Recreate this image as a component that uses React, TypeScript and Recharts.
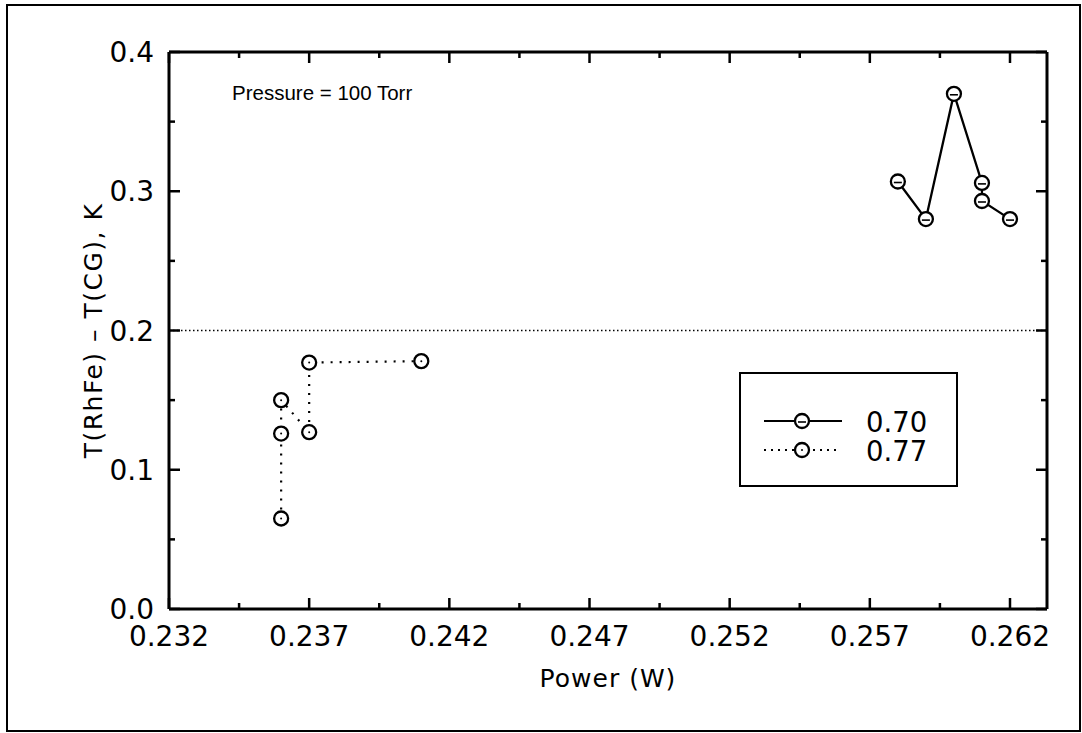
import React from 'react';
import { ScatterChart, Scatter, XAxis, YAxis, ReferenceLine, Legend, Customized } from 'recharts';

// ---- data ----
const powerA = [0.258, 0.259, 0.26, 0.261, 0.261, 0.262];
const deltaA = [0.307, 0.28, 0.37, 0.306, 0.293, 0.28];
const powerB = [0.236, 0.236, 0.236, 0.237, 0.237, 0.241];
const deltaB = [0.065, 0.126, 0.15, 0.127, 0.177, 0.178];
const seriesNames = ['0.70', '0.77'];
const xMajorTicks = [0.232, 0.237, 0.242, 0.247, 0.252, 0.257, 0.262];
const xMinorTicks = [0.2345, 0.2395, 0.2445, 0.2495, 0.2545, 0.2595];
const yMajorTicks = [0.0, 0.1, 0.2, 0.3, 0.4];
const yMinorTicks = [0.05, 0.15, 0.25, 0.35];
const xDomain: [number, number] = [0.232, 0.26332];
const yDomain: [number, number] = [0, 0.4];
const xLabel = 'Power (W)';
const yLabel = 'T(RhFe) – T(CG), K';
const annotation = 'Pressure = 100 Torr';
const refY = 0.2;

const dataA = powerA.map((x, i) => ({ x, y: deltaA[i] }));
const dataB = powerB.map((x, i) => ({ x, y: deltaB[i] }));
const xTicks = [...xMajorTicks, ...xMinorTicks].sort((a, b) => a - b);
const yTicks = [...yMajorTicks, ...yMinorTicks].sort((a, b) => a - b);

const FONT = '"DejaVu Sans", sans-serif';
const FONT2 = '"Liberation Sans", Arial, sans-serif';
const isIn = (arr: number[], v: number) => arr.some((a) => Math.abs(a - v) < 1e-9);

const XTick = (side: 'bottom' | 'top') => (props: any) => {
  const { x, y, payload } = props;
  const major = isIn(xMajorTicks, payload.value);
  const len = major ? 11 : 6;
  const dir = side === 'bottom' ? -1 : 1;
  return (
    <g>
      <line x1={x} x2={x} y1={y} y2={y + dir * len} stroke="#000" strokeWidth={2.5} />
      {side === 'bottom' && major && (
        <text x={x} y={y + 37} textAnchor="middle" fontSize={28} fill="#000" fontFamily={FONT}>
          {payload.value.toFixed(3)}
        </text>
      )}
    </g>
  );
};

const YTick = (side: 'left' | 'right') => (props: any) => {
  const { x, y, payload } = props;
  const major = isIn(yMajorTicks, payload.value);
  const len = major ? 11 : 6;
  const dir = side === 'left' ? 1 : -1;
  return (
    <g>
      <line x1={x} x2={x + dir * len} y1={y} y2={y} stroke="#000" strokeWidth={2.5} />
      {side === 'left' && major && (
        <text x={x - 15} y={y + 10} textAnchor="end" fontSize={28} fill="#000" fontFamily={FONT}>
          {payload.value.toFixed(1)}
        </text>
      )}
    </g>
  );
};

const MarkerA = (props: any) => {
  const { cx, cy } = props;
  return (
    <g>
      <circle cx={cx} cy={cy} r={7} fill="#fff" stroke="#000" strokeWidth={2.3} />
      <line x1={cx - 4} x2={cx + 4} y1={cy + 1} y2={cy + 1} stroke="#000" strokeWidth={1.6} />
    </g>
  );
};

const MarkerB = (props: any) => {
  const { cx, cy } = props;
  return (
    <g>
      <circle cx={cx} cy={cy} r={7} fill="#fff" stroke="#000" strokeWidth={2.3} />
      <circle cx={cx} cy={cy} r={1} fill="#000" />
    </g>
  );
};

const seriesStyle = [
  { dash: undefined as string | undefined, Marker: MarkerA, lineEnd: 78 },
  { dash: '2 5', Marker: MarkerB, lineEnd: 73 },
];

const LegendBox = (props: any) => {
  const payload = props.payload || [];
  return (
    <svg width={220} height={116} style={{ display: 'block', fontFamily: FONT }}>
      <rect x={1} y={1} width={217} height={113} fill="#fff" stroke="#000" strokeWidth={2} />
      {payload.map((p: any, i: number) => {
        const st = seriesStyle[i];
        const cy = 49 + i * 29;
        const M = st.Marker;
        return (
          <g key={i}>
            <line x1={25} x2={25 + st.lineEnd} y1={cy} y2={cy} stroke="#000" strokeWidth={2} strokeDasharray={st.dash} />
            <M cx={63} cy={cy} />
            <text x={127} y={cy + 11} fontSize={27.5} fill="#000">
              {p.value}
            </text>
          </g>
        );
      })}
    </svg>
  );
};

const Annotation = () => (
  <text x={232} y={100} fontSize={20.5} fill="#000" fontFamily={FONT2}>
    {annotation}
  </text>
);

const axisLineStyle = { stroke: '#000', strokeWidth: 3 };

export default function App() {
  return (
    <div style={{ position: 'absolute', left: 0, top: 0, width: 1082, height: 733, background: '#fff', fontFamily: FONT }}>
      <div
        style={{
          position: 'absolute',
          left: 6,
          top: 4,
          width: 1075,
          height: 728,
          border: '2px solid #000',
          boxSizing: 'border-box',
        }}
      />
      <ScatterChart
        width={1082}
        height={733}
        margin={{ top: 51, right: 34, bottom: 123, left: 168 }}
        style={{ fontFamily: FONT }}
      >
        <XAxis
          xAxisId="bottom"
          type="number"
          dataKey="x"
          domain={xDomain}
          allowDataOverflow
          ticks={xTicks}
          interval={0}
          height={1}
          tickSize={0}
          tickMargin={0}
          tickLine={false}
          axisLine={axisLineStyle}
          tick={XTick('bottom')}
          label={{ value: xLabel, position: 'bottom', offset: 59, fontSize: 25, fill: '#000', letterSpacing: 1 }}
        />
        <XAxis
          xAxisId="top"
          orientation="top"
          type="number"
          dataKey="x"
          domain={xDomain}
          allowDataOverflow
          ticks={xTicks}
          interval={0}
          height={1}
          tickSize={0}
          tickMargin={0}
          tickLine={false}
          axisLine={axisLineStyle}
          tick={XTick('top')}
        />
        <YAxis
          yAxisId="left"
          type="number"
          dataKey="y"
          domain={yDomain}
          allowDataOverflow
          ticks={yTicks}
          interval={0}
          width={1}
          tickSize={0}
          tickMargin={0}
          tickLine={false}
          axisLine={axisLineStyle}
          tick={YTick('left')}
          label={{
            value: yLabel,
            angle: -90,
            position: 'left',
            offset: 75,
            fontSize: 25,
            fill: '#000',
            letterSpacing: 1.5,
            style: { textAnchor: 'middle' },
          }}
        />
        <YAxis
          yAxisId="right"
          orientation="right"
          type="number"
          dataKey="y"
          domain={yDomain}
          allowDataOverflow
          ticks={yTicks}
          interval={0}
          width={1}
          tickSize={0}
          tickMargin={0}
          tickLine={false}
          axisLine={axisLineStyle}
          tick={YTick('right')}
        />
        <ReferenceLine
          xAxisId="bottom"
          yAxisId="left"
          y={refY}
          stroke="#000"
          strokeWidth={1.5}
          strokeDasharray="1.5 2.5"
        />
        <Scatter
          name={seriesNames[0]}
          data={dataA}
          xAxisId="bottom"
          yAxisId="left"
          isAnimationActive={false}
          line={{ stroke: '#000', strokeWidth: 2.3 }}
          lineType="joint"
          shape={MarkerA}
        />
        <Scatter
          name={seriesNames[1]}
          data={dataB}
          xAxisId="bottom"
          yAxisId="left"
          isAnimationActive={false}
          line={{ stroke: '#000', strokeWidth: 2.2, strokeDasharray: '2 7' }}
          lineType="joint"
          shape={MarkerB}
        />
        <Legend
          layout="horizontal"
          verticalAlign="middle"
          align="center"
          wrapperStyle={{ left: 739, top: 372, width: 220, height: 116 }}
          content={LegendBox}
        />
        <Customized component={Annotation} />
      </ScatterChart>
    </div>
  );
}
